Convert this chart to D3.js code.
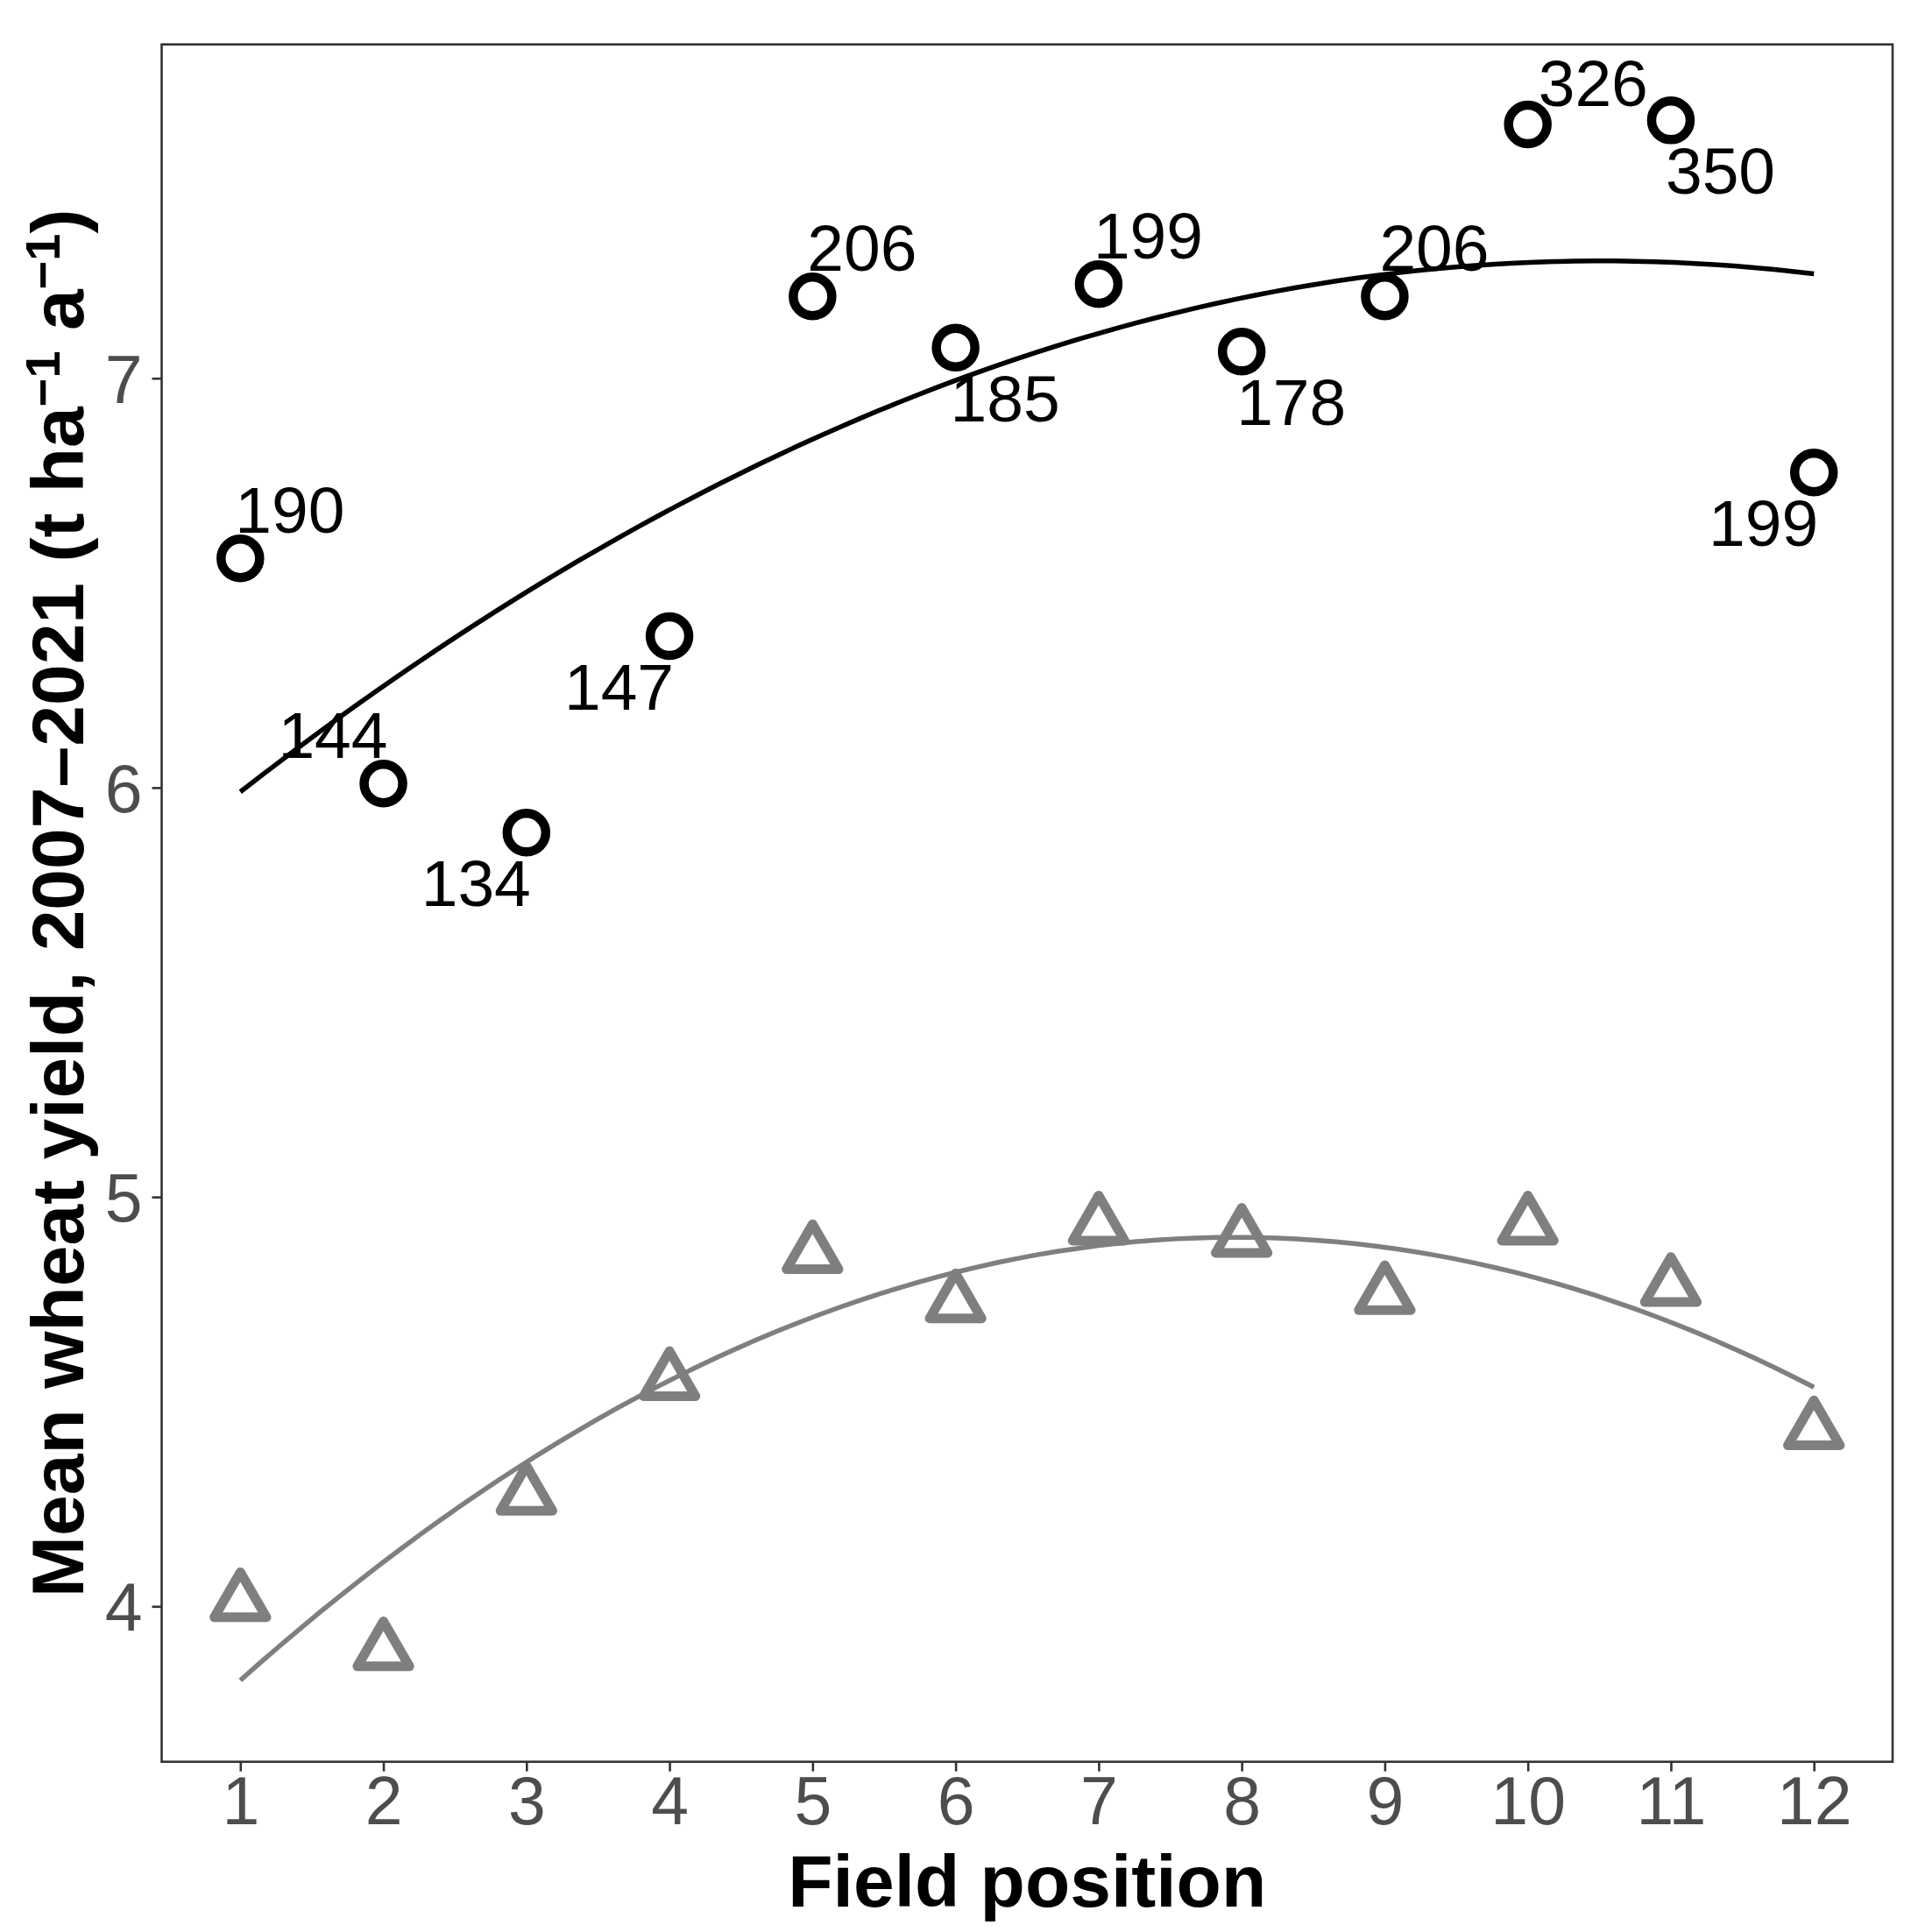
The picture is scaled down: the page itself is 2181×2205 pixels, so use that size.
<!DOCTYPE html>
<html><head><meta charset="utf-8">
<script src="https://cdn.jsdelivr.net/npm/d3@7"></script>
<style>html,body{margin:0;padding:0;background:#fff;} svg{display:block;}</style>
</head><body>
<script>
// ---- data ----
const positions = [1,2,3,4,5,6,7,8,9,10,11,12];
const circleYield = [6.56,6.01,5.89,6.37,7.20,7.075,7.23,7.065,7.20,7.62,7.63,6.77];
const triangleYield = [4.01,3.89,4.27,4.55,4.86,4.74,4.93,4.90,4.76,4.93,4.78,4.43];
const circleLabels = ["190","144","134","147","206","185","199","178","206","326","350","199"];
const labelPlacement = ["ur","ul","dl","dl","ur","dr","ur","dr","ur","ur","dr","dl"];
const labelNudge = [[0,0],[0,0],[0,0],[0,0],[0,0],[0,0],[0,0],[0,0],[0,0],[18,8],[0,0],[0,0]];
const xTicks = [1,2,3,4,5,6,7,8,9,10,11,12];
const yTicks = [4,5,6,7];
const xTitle = "Field position";

// ---- layout ----
const W = 2181, H = 2205;
const P = {l:184.5, r:2160, t:50.7, b:2010.7};
const FONT = "'Liberation Sans', Arial, Helvetica, sans-serif";

const x = d3.scaleLinear().domain([0.45, 12.55]).range([P.l, P.r]);
const y = d3.scaleLinear().domain([3.6203, 7.8155]).range([P.b, P.t]);

const svg = d3.select("body").append("svg").attr("width", W).attr("height", H)
  .attr("viewBox", `0 0 ${W} ${H}`);
svg.append("rect").attr("width", W).attr("height", H).attr("fill", "#fff");

// quadratic least-squares fit (as geom_smooth lm y ~ poly(x,2))
function quadFit(xs, ys) {
  let S = [0,0,0,0,0], T = [0,0,0];
  xs.forEach((xi,i)=>{ for(let k=0;k<5;k++) S[k]+=Math.pow(xi,k); for(let k=0;k<3;k++) T[k]+=ys[i]*Math.pow(xi,k); });
  const A = [[S[0],S[1],S[2],T[0]],[S[1],S[2],S[3],T[1]],[S[2],S[3],S[4],T[2]]];
  for (let i=0;i<3;i++){ for(let j=i+1;j<3;j++){ const f=A[j][i]/A[i][i]; for(let k=i;k<4;k++) A[j][k]-=f*A[i][k]; } }
  const c=[0,0,0];
  for (let i=2;i>=0;i--){ let s=A[i][3]; for(let k=i+1;k<3;k++) s-=A[i][k]*c[k]; c[i]=s/A[i][i]; }
  return v => c[0]+c[1]*v+c[2]*v*v;
}
const fitC = quadFit(positions, circleYield);
const fitT = quadFit(positions, triangleYield);
const grid = d3.range(80).map(i => 1 + 11*i/79);
const line = f => d3.line().x(d=>x(d)).y(d=>y(f(d)));

const plot = svg.append("g");
plot.append("path").datum(grid).attr("d", line(fitC)).attr("fill","none")
  .attr("stroke","#000").attr("stroke-width",5.5);
plot.append("path").datum(grid).attr("d", line(fitT)).attr("fill","none")
  .attr("stroke","#7F7F7F").attr("stroke-width",5.5);

// triangles (R pch 2 geometry)
const R = 22;
const tr0 = 1.5551*R, txc = 1.3468*R, tyc = 0.7776*R;
const triPath = `M0,${-tr0}L${txc},${tyc}L${-txc},${tyc}Z`;
plot.selectAll(".tri").data(positions).enter().append("path")
  .attr("transform",(d,i)=>`translate(${x(d)},${y(triangleYield[i])})`)
  .attr("d", triPath).attr("fill","none").attr("stroke","#7F7F7F")
  .attr("stroke-width",11).attr("stroke-linejoin","round");

// circles
plot.selectAll(".circ").data(positions).enter().append("circle")
  .attr("cx", d=>x(d)).attr("cy",(d,i)=>y(circleYield[i])).attr("r",R)
  .attr("fill","none").attr("stroke","#000").attr("stroke-width",10.5);

// labels
plot.selectAll(".lab").data(positions).enter().append("text")
  .attr("x",(d,i)=>{ const p=labelPlacement[i]; return x(d) + (p[1]==="r"?-6:5) + labelNudge[i][0]; })
  .attr("y",(d,i)=>{ const p=labelPlacement[i]; return y(circleYield[i]) + (p[0]==="u"?-29:84) + labelNudge[i][1]; })
  .attr("text-anchor",(d,i)=>labelPlacement[i][1]==="r"?"start":"end")
  .attr("font-family",FONT).attr("font-size",75).attr("fill","#000")
  .text((d,i)=>circleLabels[i]);

// panel border
svg.append("rect").attr("x",P.l).attr("y",P.t).attr("width",P.r-P.l).attr("height",P.b-P.t)
  .attr("fill","none").attr("stroke","#333333").attr("stroke-width",2.6);

// axes
const xAxis = svg.append("g").attr("transform",`translate(0,${P.b})`)
  .call(d3.axisBottom(x).tickValues(xTicks).tickSize(11).tickPadding(12).tickFormat(d3.format("d")));
const yAxis = svg.append("g").attr("transform",`translate(${P.l},0)`)
  .call(d3.axisLeft(y).tickValues(yTicks).tickSize(11).tickPadding(11).tickFormat(d3.format("d")));
[xAxis,yAxis].forEach(a=>{
  a.select(".domain").remove();
  a.selectAll(".tick line").attr("stroke","#333333").attr("stroke-width",2.6);
  a.selectAll(".tick text").attr("fill","#4D4D4D").attr("font-family",FONT).attr("font-size",77);
});
xAxis.selectAll(".tick text").attr("y", 2082 - P.b).attr("dy", 0);
yAxis.selectAll(".tick text").attr("dy","0.355em");

// axis titles
svg.append("text").attr("x",(P.l+P.r)/2).attr("y",2176).attr("text-anchor","middle")
  .attr("font-family",FONT).attr("font-weight","bold").attr("font-size",84).attr("fill","#000")
  .text(xTitle);

const yt = svg.append("text").attr("transform",`translate(95,${(P.t+P.b)/2}) rotate(-90)`)
  .attr("text-anchor","middle").attr("font-family",FONT).attr("font-weight","bold")
  .attr("font-size",84).attr("fill","#000");
yt.append("tspan").text("Mean wheat yield, 2007\u20132021 (t ha");
yt.append("tspan").attr("font-size",56).attr("dy",-27).text("\u22121");
yt.append("tspan").attr("dy",27).text(" a");
yt.append("tspan").attr("font-size",56).attr("dy",-27).text("\u22121");
yt.append("tspan").attr("dy",27).text(")");
</script>
</body></html>
